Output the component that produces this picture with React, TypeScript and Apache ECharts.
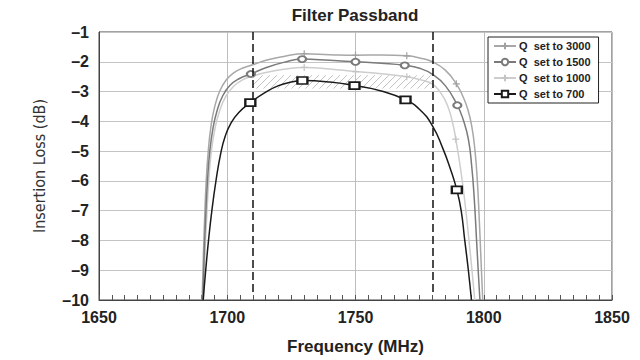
import React, { useEffect, useRef } from 'react';
import * as echarts from 'echarts';

const chartTitle = 'Filter Passband';
const xName = 'Frequency (MHz)';
const yName = 'Insertion Loss (dB)';
const seriesNames = ['Q  set to 3000', 'Q  set to 1500', 'Q  set to 1000', 'Q  set to 700'];

// [frequency MHz, insertion loss dB]
const q3000: [number, number][] = [
  [1690.2, -10], [1690.7, -8.5], [1691.2, -7.2], [1691.8, -6.0], [1692.6, -5.0], [1693.6, -4.2],
  [1695.0, -3.55], [1697.0, -3.0], [1699.5, -2.62], [1702.5, -2.37], [1706.4, -2.2], [1710, -2.1],
  [1715.5, -1.94], [1722, -1.82], [1730, -1.73], [1740, -1.76], [1750, -1.78], [1760, -1.77],
  [1770, -1.8], [1775, -1.87], [1780, -2.0], [1785, -2.28], [1789.3, -2.74], [1791.8, -3.15],
  [1793.8, -3.6], [1795.4, -4.2], [1796.6, -5.0], [1797.5, -6.0], [1798.2, -7.2], [1798.9, -8.6],
  [1799.6, -10],
];
const q3000Markers = [1730, 1750, 1770, 1789.3];

const q1500: [number, number][] = [
  [1690.5, -10], [1691.0, -8.5], [1691.6, -7.2], [1692.3, -6.0], [1693.2, -5.0], [1694.4, -4.25],
  [1696.0, -3.65], [1698.2, -3.15], [1701, -2.8], [1704.6, -2.57], [1709.2, -2.41], [1715, -2.2],
  [1722, -2.02], [1729.2, -1.91], [1740, -1.95], [1750, -2.0], [1760, -2.05], [1769.2, -2.12],
  [1775, -2.22], [1780, -2.42], [1785, -2.8], [1789.7, -3.46], [1792, -3.95], [1794, -4.6],
  [1795.3, -5.5], [1796.3, -6.6], [1797.2, -8.0], [1797.9, -9.1], [1798.5, -10],
];
const q1500Markers = [1709.2, 1729.2, 1750, 1769.2, 1789.7];

const q1000: [number, number][] = [
  [1690.8, -10], [1691.3, -8.5], [1692.0, -7.2], [1692.8, -6.0], [1693.8, -5.0], [1695.2, -4.25],
  [1697.0, -3.65], [1699.5, -3.15], [1702.5, -2.82], [1706.2, -2.6], [1710, -2.48], [1715, -2.36],
  [1722, -2.25], [1730, -2.19], [1740, -2.24], [1750, -2.33], [1760, -2.4], [1770, -2.5],
  [1775, -2.6], [1780, -2.75], [1783, -3.02], [1785.8, -3.45], [1788, -4.1], [1789.1, -4.6],
  [1790.8, -5.5], [1792.5, -6.6], [1794, -7.8], [1795.3, -8.9], [1796.5, -10],
];
const q1000Markers = [1730, 1750, 1770, 1789.1];

const q700: [number, number][] = [
  [1690.6, -10], [1691.6, -9], [1692.7, -8], [1694.0, -7], [1695.6, -6], [1697.4, -5.1],
  [1699.2, -4.5], [1701.5, -4.05], [1704.5, -3.7], [1709, -3.37], [1715, -3.02], [1720, -2.8],
  [1725, -2.68], [1729.3, -2.63], [1740, -2.68], [1749.6, -2.8], [1760, -2.98], [1769.5, -3.28],
  [1775, -3.6], [1780, -4.15], [1784, -4.9], [1787, -5.6], [1789.5, -6.3], [1791.2, -7.0],
  [1792.6, -8.0], [1794, -9.0], [1795.2, -10],
];
const q700Markers = [1709, 1729.3, 1749.6, 1769.5, 1789.5];

const passband = [1710, 1780];
const hatchBand = [-2.45, -2.9];
const xRange = [1650, 1850, 50];
const yRange = [-10, -1, 1];

const plusPath = 'path://M0,5L10,5M5,0L5,10';

function toData(points: [number, number][], markers: number[]) {
  return points.map(([x, y]) =>
    markers.includes(x) ? { value: [x, y] } : { value: [x, y], symbol: 'none' }
  );
}

const FONT = '"Liberation Sans", Arial, sans-serif';

export default function App() {
  const ref = useRef<HTMLDivElement>(null);

  useEffect(() => {
    if (!ref.current) return;
    const chart = echarts.init(ref.current, undefined, { renderer: 'svg' });

    const lineBase = {
      type: 'line',
      smooth: 0.5,
      showSymbol: true,
      showAllSymbol: true,
      silent: true,
    };

    const option: any = {
      animation: false,
      backgroundColor: '#ffffff',
      textStyle: { fontFamily: FONT },
      graphic: [
        {
          type: 'text',
          x: 355,
          y: 15,
          style: {
            text: chartTitle,
            align: 'center',
            verticalAlign: 'middle',
            fontFamily: FONT,
            fontSize: 17,
            fontWeight: 'bold',
            fill: '#222',
          },
        },
      ],
      grid: {
        left: 99,
        right: 28,
        top: 32,
        bottom: 60,
        show: true,
        borderColor: '#444',
        borderWidth: 1,
        backgroundColor: 'transparent',
      },
      legend: {
        orient: 'vertical',
        left: 488,
        top: 37,
        padding: [3, 8, 3, 5],
        backgroundColor: '#fff',
        borderColor: '#222',
        borderWidth: 1,
        borderRadius: 0,
        itemWidth: 22,
        itemHeight: 8,
        itemGap: 4,
        data: seriesNames,
        textStyle: {
          fontFamily: FONT,
          fontSize: 11,
          fontWeight: 'bold',
          color: '#222',
          lineHeight: 12,
          padding: [0, 0, 0, -2],
        },
      },
      xAxis: {
        type: 'value',
        min: xRange[0],
        max: xRange[1],
        interval: xRange[2],
        name: xName,
        nameLocation: 'middle',
        nameGap: 38,
        nameTextStyle: { fontFamily: FONT, fontSize: 17, fontWeight: 'bold', color: '#222' },
        axisLine: { show: true, lineStyle: { color: '#444', width: 1 } },
        axisTick: { show: true, inside: true, length: 5, lineStyle: { color: '#555' } },
        minorTick: { show: true, splitNumber: 10, length: 5, lineStyle: { color: '#555' } },
        axisLabel: {
          fontFamily: FONT,
          fontSize: 16,
          fontWeight: 'bold',
          color: '#222',
          margin: 9,
          formatter: (v: number) => String(v),
        },
        splitLine: { show: true, lineStyle: { color: '#bdbdbd', width: 1 } },
      },
      yAxis: {
        type: 'value',
        min: yRange[0],
        max: yRange[1],
        interval: yRange[2],
        name: yName,
        nameLocation: 'middle',
        nameGap: 52,
        nameTextStyle: {
          fontFamily: '"Liberation Sans Narrow", "DejaVu Sans Condensed", "Liberation Sans", sans-serif',
          fontSize: 16,
          color: '#333',
        },
        axisLine: { show: true, lineStyle: { color: '#444', width: 1 } },
        axisTick: { show: false },
        axisLabel: {
          fontFamily: FONT,
          fontSize: 16,
          fontWeight: 'bold',
          color: '#222',
          margin: 10,
          formatter: (v: number) => (v < 0 ? '\u2013' + Math.abs(v) : String(v)),
        },
        splitLine: { show: true, lineStyle: { color: '#c4c4c4', width: 1 } },
      },
      series: [
        {
          type: 'custom',
          silent: true,
          z: 1,
          data: [[passband[0], passband[1], hatchBand[0], hatchBand[1]]],
          encode: { x: [0, 1], y: [2, 3] },
          renderItem: (_params: any, api: any) => {
            const a = api.coord([api.value(0), api.value(2)]);
            const b = api.coord([api.value(1), api.value(3)]);
            const L = a[0], T = a[1], R = b[0], B = b[1];
            const children: any[] = [];
            for (let c = L + T + 3; c <= R + B; c += 7) {
              const xa = Math.max(L, c - B);
              const xb = Math.min(R, c - T);
              if (xb > xa) {
                children.push({
                  type: 'line',
                  shape: { x1: xa, y1: c - xa, x2: xb, y2: c - xb },
                  style: { stroke: '#c2c2c2', lineWidth: 1 },
                });
              }
            }
            return { type: 'group', children };
          },
        },
        {
          ...lineBase,
          name: seriesNames[2],
          z: 2,
          symbol: plusPath,
          symbolSize: 7,
          data: toData(q1000, q1000Markers),
          lineStyle: { color: '#cdcdcd', width: 1.5 },
          itemStyle: { color: '#cdcdcd', borderColor: '#c4c4c4', borderWidth: 1.2 },
        },
        {
          ...lineBase,
          name: seriesNames[0],
          z: 3,
          symbol: plusPath,
          symbolSize: 7,
          data: toData(q3000, q3000Markers),
          lineStyle: { color: '#a8a8a8', width: 1.5 },
          itemStyle: { color: '#a8a8a8', borderColor: '#a0a0a0', borderWidth: 1.2 },
        },
        {
          ...lineBase,
          name: seriesNames[1],
          z: 4,
          symbol: 'emptyCircle',
          symbolSize: [8, 6],
          data: toData(q1500, q1500Markers),
          lineStyle: { color: '#7a7a7a', width: 1.5 },
          itemStyle: { color: '#7a7a7a', borderColor: '#6a6a6a', borderWidth: 1.2 },
        },
        {
          ...lineBase,
          name: seriesNames[3],
          z: 5,
          symbol: 'emptyRect',
          symbolSize: [10, 7],
          data: toData(q700, q700Markers),
          lineStyle: { color: '#1a1a1a', width: 1.5 },
          itemStyle: { color: '#1a1a1a', borderColor: '#1a1a1a', borderWidth: 1.2 },
          markLine: {
            silent: true,
            symbol: ['none', 'none'],
            label: { show: false },
            lineStyle: { color: '#111', width: 1.5, type: [8, 4] },
            data: passband.map((f) => [{ coord: [f, yRange[1]] }, { coord: [f, -9.78] }]),
          },
        },
      ],
    };

    chart.setOption(option);
    return () => chart.dispose();
  }, []);

  return <div ref={ref} style={{ width: 640, height: 360, position: 'absolute', left: 0, top: 0 }} />;
}
